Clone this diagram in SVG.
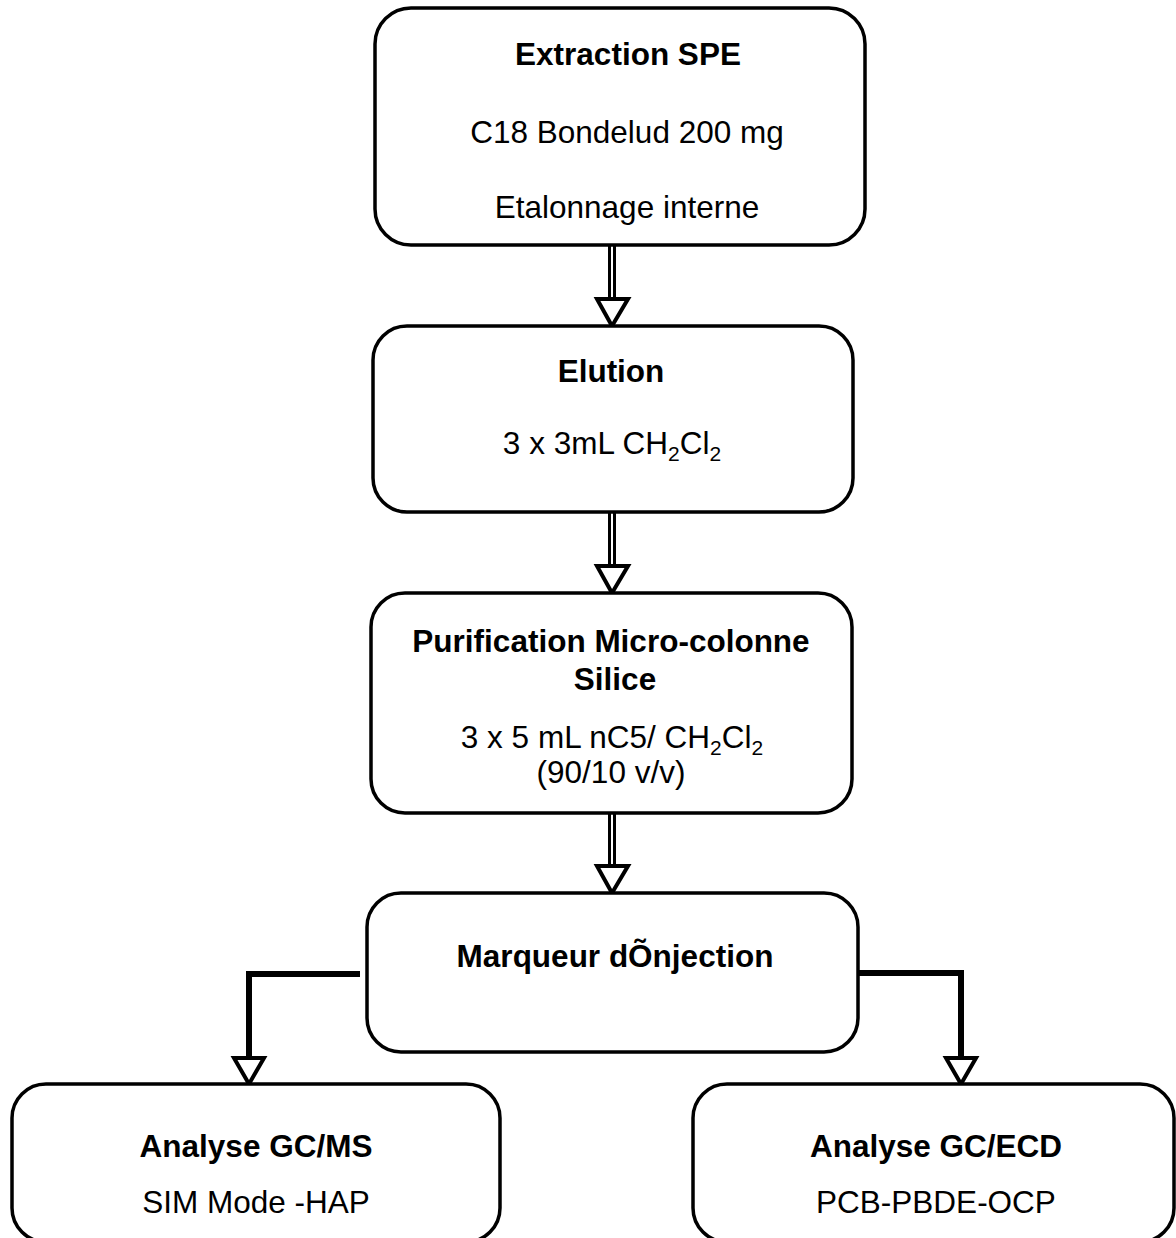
<svg xmlns="http://www.w3.org/2000/svg" width="1176" height="1238" viewBox="0 0 1176 1238">
<defs>
<style>
.box{fill:#fff;stroke:#000;stroke-width:3.5}
.t{font-family:"Liberation Sans",Arial,sans-serif;font-size:31.5px;fill:#000;text-anchor:middle}
.b{font-weight:bold}
.sub{font-size:21px}
.shaftO{stroke:#000;stroke-width:8;fill:none}
.shaftI{stroke:#fff;stroke-width:2;fill:none}
.head{fill:#fff;stroke:#000;stroke-width:4;stroke-linejoin:miter}
.thick{stroke:#000;stroke-width:6;fill:none;stroke-linejoin:miter}
</style>
</defs>
<rect width="1176" height="1238" fill="#fff"/>
<g id="connectors">
<line class="shaftO" x1="612" y1="245" x2="612" y2="300"/>
<line class="shaftI" x1="612" y1="245" x2="612" y2="300"/>
<polygon class="head" points="597,299 628,299 612,326"/>
<line class="shaftO" x1="612" y1="512" x2="612" y2="567"/>
<line class="shaftI" x1="612" y1="512" x2="612" y2="567"/>
<polygon class="head" points="597,566 628,566 612,593"/>
<line class="shaftO" x1="612" y1="813" x2="612" y2="867"/>
<line class="shaftI" x1="612" y1="813" x2="612" y2="867"/>
<polygon class="head" points="597,866 628,866 612,893"/>
<polyline class="thick" points="360,974 249,974 249,1058"/>
<polygon class="head" points="234,1058 264,1058 249,1084"/>
<polyline class="thick" points="849,973 961,973 961,1058"/>
<polygon class="head" points="946,1058 976,1058 961,1084"/>
</g>
<g id="n1">
<rect class="box" x="375" y="8" width="490" height="237" rx="36"/>
<text class="t b" x="628" y="65">Extraction SPE</text>
<text class="t" x="627" y="143">C18 Bondelud 200 mg</text>
<text class="t" x="627" y="218">Etalonnage interne</text>
</g>
<g id="n2">
<rect class="box" x="373" y="326" width="480" height="186" rx="34"/>
<text class="t b" x="611" y="382">Elution</text>
<text class="t" x="612" y="454">3 x 3mL CH<tspan class="sub" dy="7">2</tspan><tspan dy="-7">Cl</tspan><tspan class="sub" dy="7">2</tspan></text>
</g>
<g id="n3">
<rect class="box" x="371" y="593" width="481" height="220" rx="34"/>
<text class="t b" x="611" y="652">Purification Micro-colonne</text>
<text class="t b" x="615" y="690">Silice</text>
<text class="t" x="612" y="748">3 x 5 mL nC5/ CH<tspan class="sub" dy="7">2</tspan><tspan dy="-7">Cl</tspan><tspan class="sub" dy="7">2</tspan></text>
<text class="t" x="611" y="783">(90/10 v/v)</text>
</g>
<g id="n4">
<rect class="box" x="367" y="893" width="491" height="159" rx="34"/>
<text class="t b" x="615" y="967">Marqueur dÕnjection</text>
</g>
<g id="n5">
<rect class="box" x="12" y="1084" width="488" height="158" rx="34"/>
<text class="t b" x="256" y="1157">Analyse GC/MS</text>
<text class="t" x="256" y="1213">SIM Mode -HAP</text>
</g>
<g id="n6">
<rect class="box" x="693" y="1084" width="481" height="158" rx="34"/>
<text class="t b" x="936" y="1157">Analyse GC/ECD</text>
<text class="t" x="936" y="1213">PCB-PBDE-OCP</text>
</g>
</svg>
